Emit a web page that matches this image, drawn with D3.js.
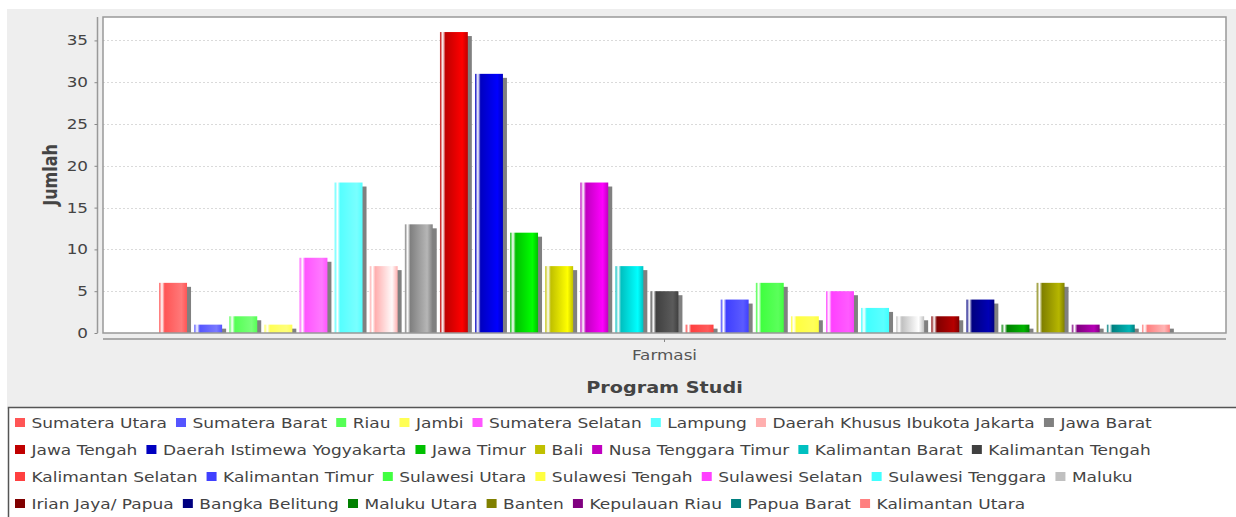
<!DOCTYPE html>
<html>
<head>
<meta charset="utf-8">
<script src="https://cdn.jsdelivr.net/npm/d3@7"></script>
<style>
  body { margin: 0; background: #fff; }
  svg { display: block; font-family: "DejaVu Sans", sans-serif; }
</style>
</head>
<body>
<svg width="1236" height="517"></svg>
<script>
// data
var categories = ["Farmasi"];
var provinces = [
  "Sumatera Utara", "Sumatera Barat", "Riau", "Jambi", "Sumatera Selatan", "Lampung",
  "Daerah Khusus Ibukota Jakarta", "Jawa Barat", "Jawa Tengah", "Daerah Istimewa Yogyakarta",
  "Jawa Timur", "Bali", "Nusa Tenggara Timur", "Kalimantan Barat", "Kalimantan Tengah",
  "Kalimantan Selatan", "Kalimantan Timur", "Sulawesi Utara", "Sulawesi Tengah",
  "Sulawesi Selatan", "Sulawesi Tenggara", "Maluku", "Irian Jaya/ Papua", "Bangka Belitung",
  "Maluku Utara", "Banten", "Kepulauan Riau", "Papua Barat", "Kalimantan Utara"
];
var values = [6, 1, 2, 1, 9, 18, 8, 13, 36, 31, 12, 8, 18, 8, 5, 1, 4, 6, 2, 5, 3, 2, 2, 4, 1, 6, 1, 1, 1];
var palette = [
  "#FF5555", "#5555FF", "#55FF55", "#FFFF55", "#FF55FF", "#55FFFF", "#FFAFAF", "#808080",
  "#C00000", "#0000C0", "#00C000", "#C0C000", "#C000C0", "#00C0C0", "#404040",
  "#FF4040", "#4040FF", "#40FF40", "#FFFF40", "#FF40FF", "#40FFFF", "#C0C0C0",
  "#800000", "#000080", "#008000", "#808000", "#800080", "#008080", "#FF8080"
];
var yTicks = [0, 5, 10, 15, 20, 25, 30, 35];

var svg = d3.select("svg");
var plot = { left: 103, top: 17, right: 1226, bottom: 333 };
var W = plot.right - plot.left;
var sx = 1.2; // the picture is stretched sideways, text too

// java Color.brighter()
function brighter(c) {
  var rgb = d3.rgb(c), i = 3;
  var f = function(v) {
    if (v > 0 && v < i) v = i;
    return Math.min(255, Math.floor(v / 0.7));
  };
  if (rgb.r === 0 && rgb.g === 0 && rgb.b === 0) return d3.rgb(i, i, i).toString();
  return d3.rgb(f(rgb.r), f(rgb.g), f(rgb.b)).toString();
}

// background panel
svg.append("rect").attr("x", 7).attr("y", 9).attr("width", 1229).attr("height", 400)
  .attr("fill", "#EEEEEE");

var x0 = d3.scaleBand().domain(categories).range([plot.left, plot.right])
  .paddingInner(0).paddingOuter(0.05 / 0.9);
var x1 = d3.scaleBand().domain(provinces).range([0, x0.bandwidth()])
  .paddingInner((0.2 / 28) / (0.8 / 29 + 0.2 / 28)).paddingOuter(0);
var y = d3.scaleLinear().domain([0, 37.8]).range([plot.bottom, plot.top]);

svg.append("rect").attr("x", plot.left).attr("y", plot.top)
  .attr("width", W).attr("height", plot.bottom - plot.top).attr("fill", "#fff");

// gridlines
svg.append("g").selectAll("line").data(yTicks.slice(1)).join("line")
  .attr("x1", plot.left).attr("x2", plot.right)
  .attr("y1", function(d) { return Math.round(y(d)) + 0.5; })
  .attr("y2", function(d) { return Math.round(y(d)) + 0.5; })
  .attr("stroke", "#DADADA").attr("stroke-dasharray", "2,2");

// gradients
var defs = svg.append("defs");
palette.forEach(function(c, i) {
  var g = defs.append("linearGradient").attr("id", "grad" + i)
    .attr("x1", "0").attr("x2", "1").attr("y1", "0").attr("y2", "0");
  var c1 = brighter(c);
  [[0, c], [0.1, "#fff"], [0.2, c], [0.8, c1], [1, c]].forEach(function(s) {
    g.append("stop").attr("offset", s[0]).attr("stop-color", s[1]);
  });
});

var bars = svg.append("g").attr("transform", "translate(" + x0(categories[0]) + ",0)");
var rows = provinces.map(function(p, i) { return { name: p, value: values[i], idx: i }; });

// shadows
bars.selectAll("rect.shadow").data(rows).join("rect").attr("class", "shadow")
  .attr("x", function(d) { return x1(d.name) + 4; })
  .attr("y", function(d) { return y(d.value) + 4; })
  .attr("width", x1.bandwidth())
  .attr("height", function(d) { return Math.max(0, y(0) - y(d.value) - 4); })
  .attr("fill", "#808080");

bars.selectAll("rect.bar").data(rows).join("rect").attr("class", "bar")
  .attr("x", function(d) { return x1(d.name); })
  .attr("y", function(d) { return y(d.value); })
  .attr("width", x1.bandwidth())
  .attr("height", function(d) { return y(0) - y(d.value); })
  .attr("fill", function(d) { return "url(#grad" + d.idx + ")"; });

// plot border
svg.append("rect").attr("x", plot.left).attr("y", plot.top)
  .attr("width", W).attr("height", plot.bottom - plot.top)
  .attr("fill", "none").attr("stroke", "#999").attr("stroke-width", 1.5);

// y axis
var yAxis = svg.append("g").attr("transform", "translate(97.5,0)")
  .call(d3.axisLeft(y).tickValues(yTicks).tickSize(3).tickPadding(6).tickSizeOuter(0));
yAxis.select(".domain").attr("stroke", "#999").attr("stroke-width", 1.5)
  .attr("d", "M0," + plot.top + "V" + plot.bottom);
yAxis.selectAll(".tick line").attr("stroke", "#888");
yAxis.selectAll(".tick text").attr("fill", "#444").style("font-size", "14px")
  .style("font-family", "DejaVu Sans, sans-serif")
  .attr("x", 0).attr("transform", "translate(-9.5,0) scale(" + sx + ",1)");

svg.append("text")
  .attr("transform", "translate(57," + (plot.top + plot.bottom) / 2 + ") scale(" + sx + ",1) rotate(-90)")
  .attr("text-anchor", "middle").attr("fill", "#444")
  .style("font-size", "16px").style("font-weight", "bold").text("Jumlah");

// x axis
var xAxis = svg.append("g").attr("transform", "translate(0,339)")
  .call(d3.axisBottom(x0).tickSize(3).tickPadding(8).tickSizeOuter(0));
xAxis.select(".domain").attr("stroke", "#aaa").attr("stroke-width", 2)
  .attr("d", "M" + plot.left + ",0H" + plot.right);
xAxis.selectAll(".tick line").attr("stroke", "#888");
xAxis.selectAll(".tick text").attr("fill", "#555").style("font-size", "14px")
  .style("font-family", "DejaVu Sans, sans-serif")
  .attr("transform", "scale(" + sx + ",1)");

svg.append("text")
  .attr("transform", "translate(" + (plot.left + plot.right) / 2 + ",393) scale(" + sx + ",1)")
  .attr("text-anchor", "middle").attr("fill", "#444")
  .style("font-size", "16px").style("font-weight", "bold").text("Program Studi");

// legend
svg.append("rect").attr("x", 8.5).attr("y", 407.5).attr("width", 1240).attr("height", 120)
  .attr("fill", "#fff").attr("stroke", "#555").attr("stroke-width", 1.5);

var legend = svg.append("g");
var lsx = 1.215;
var lx = 15, ly = 423, rowH = 27, maxX = 1232;
provinces.forEach(function(p, i) {
  var t = legend.append("text").attr("dy", "0.35em")
    .attr("fill", "#444").style("font-size", "14px").text(p);
  var w = t.node().getComputedTextLength() * lsx;
  if (lx + 16 + w > maxX) {
    lx = 15; ly += rowH;
  }
  t.attr("transform", "translate(" + (lx + 16.5) + "," + ly + ") scale(" + lsx + ",1)");
  legend.append("rect").attr("x", lx).attr("y", ly - 5).attr("width", 10).attr("height", 9)
    .attr("fill", palette[i]);
  lx += 16.5 + w + 9;
});
</script>
</body>
</html>
